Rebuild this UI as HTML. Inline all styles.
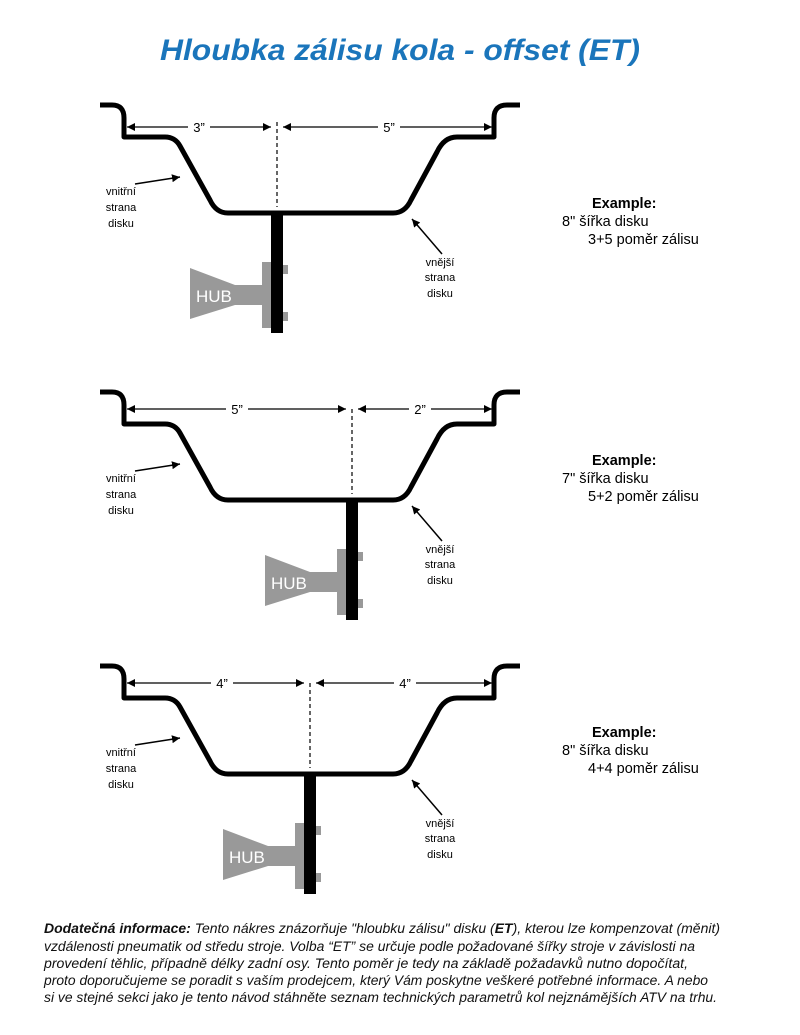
<!DOCTYPE html>
<html><head><meta charset="utf-8"><style>
html,body{margin:0;padding:0;background:#fff;}
body{width:800px;height:1035px;position:relative;overflow:hidden;font-family:"Liberation Sans","DejaVu Sans",sans-serif;}
</style></head><body>
<svg width="800" height="1035" viewBox="0 0 800 1035" style="position:absolute;left:0;top:0" font-family="Liberation Sans, DejaVu Sans, sans-serif">
<defs>
<marker id="a" viewBox="0 0 10 10" refX="10" refY="5" markerWidth="8" markerHeight="8" markerUnits="userSpaceOnUse" orient="auto-start-reverse"><path d="M0,0 L10,5 L0,10 z" fill="#000"/></marker>
<g id="rim">
<path d="M100,105 L112,105 Q124,105 124,118 L124,137 L165,137 Q175,137 180,146 L210,200 Q216,213 228,213 L393,213 Q405,213 411,200 L437,152 Q444,137 457,137 L494,137 L494,118 Q494,105 507,105 L520,105" fill="none" stroke="#000" stroke-width="5" stroke-linejoin="round"/>
<line x1="135" y1="184" x2="180" y2="177" stroke="#000" stroke-width="1.5" marker-end="url(#a)"/>
<line x1="442" y1="254" x2="412" y2="219" stroke="#000" stroke-width="1.5" marker-end="url(#a)"/>
<g font-size="11" fill="#000" text-anchor="middle">
<text x="121" y="195">vnitřní</text><text x="121" y="211">strana</text><text x="121" y="227">disku</text>
<text x="440" y="266">vnější</text><text x="440" y="281">strana</text><text x="440" y="297">disku</text>
</g>
</g>
<g id="hub">
<polygon points="190,268 235,285 262,285 262,305 235,305 190,319" fill="#999"/>
<rect x="262" y="262" width="12" height="66" fill="#999"/>
<rect x="282" y="265" width="6" height="9" fill="#999"/>
<rect x="282" y="312" width="6" height="9" fill="#999"/>
<rect x="271" y="213" width="12" height="120" fill="#000"/>
<line x1="277" y1="122" x2="277" y2="207" stroke="#000" stroke-width="1.2" stroke-dasharray="4,3"/>
<text x="196" y="302" font-size="17" fill="#fff">HUB</text>
</g>
</defs>
<text x="160" y="60" textLength="480" lengthAdjust="spacingAndGlyphs" font-size="30" font-weight="bold" font-style="italic" fill="#1a75bb">Hloubka zálisu kola - offset (ET)</text>

<use href="#rim"/>
<use href="#hub"/>
<line x1="127" y1="127" x2="271" y2="127" stroke="#000" stroke-width="1.3" marker-start="url(#a)" marker-end="url(#a)"/>
<line x1="283" y1="127" x2="492" y2="127" stroke="#000" stroke-width="1.3" marker-start="url(#a)" marker-end="url(#a)"/>
<rect x="188" y="119" width="22" height="14" fill="#fff"/><text x="199" y="132" font-size="13" text-anchor="middle">3”</text>
<rect x="378" y="119" width="22" height="14" fill="#fff"/><text x="389" y="132" font-size="13" text-anchor="middle">5”</text>
<g font-size="14.5"><text x="592" y="208" font-weight="bold">Example:</text><text x="562" y="226">8"  šířka disku</text><text x="588" y="244">3+5  poměr zálisu</text></g>

<use href="#rim" y="287"/>
<use href="#hub" x="75" y="287"/>
<line x1="127" y1="409" x2="346" y2="409" stroke="#000" stroke-width="1.3" marker-start="url(#a)" marker-end="url(#a)"/>
<line x1="358" y1="409" x2="492" y2="409" stroke="#000" stroke-width="1.3" marker-start="url(#a)" marker-end="url(#a)"/>
<rect x="226" y="401" width="22" height="14" fill="#fff"/><text x="237" y="414" font-size="13" text-anchor="middle">5”</text>
<rect x="409" y="401" width="22" height="14" fill="#fff"/><text x="420" y="414" font-size="13" text-anchor="middle">2”</text>
<g font-size="14.5"><text x="592" y="465" font-weight="bold">Example:</text><text x="562" y="483">7"  šířka disku</text><text x="588" y="501">5+2  poměr zálisu</text></g>

<use href="#rim" y="561"/>
<use href="#hub" x="33" y="561"/>
<line x1="127" y1="683" x2="304" y2="683" stroke="#000" stroke-width="1.3" marker-start="url(#a)" marker-end="url(#a)"/>
<line x1="316" y1="683" x2="492" y2="683" stroke="#000" stroke-width="1.3" marker-start="url(#a)" marker-end="url(#a)"/>
<rect x="211" y="675" width="22" height="14" fill="#fff"/><text x="222" y="688" font-size="13" text-anchor="middle">4”</text>
<rect x="394" y="675" width="22" height="14" fill="#fff"/><text x="405" y="688" font-size="13" text-anchor="middle">4”</text>
<g font-size="14.5"><text x="592" y="737" font-weight="bold">Example:</text><text x="562" y="755">8"  šířka disku</text><text x="588" y="773">4+4  poměr zálisu</text></g>

<g font-size="13.5" font-style="italic" fill="#111">
<text x="44" y="933" textLength="676" lengthAdjust="spacingAndGlyphs"><tspan font-weight="bold">Dodatečná informace:</tspan> Tento nákres znázorňuje "hloubku zálisu" disku (<tspan font-weight="bold">ET</tspan>), kterou lze kompenzovat (měnit)</text>
<text x="44" y="951" textLength="651" lengthAdjust="spacingAndGlyphs">vzdálenosti pneumatik od středu stroje. Volba “ET” se určuje podle požadované šířky stroje v závislosti na</text>
<text x="44" y="968" textLength="644" lengthAdjust="spacingAndGlyphs">provedení těhlic, případně délky zadní osy. Tento poměr je tedy na základě požadavků nutno dopočítat,</text>
<text x="44" y="985" textLength="664" lengthAdjust="spacingAndGlyphs">proto doporučujeme se poradit s vaším prodejcem, který Vám poskytne veškeré potřebné informace. A nebo</text>
<text x="44" y="1002" textLength="673" lengthAdjust="spacingAndGlyphs">si ve stejné sekci jako je tento návod stáhněte seznam technických parametrů kol nejznámějších ATV na trhu.</text>
</g>
</svg>
</body></html>
